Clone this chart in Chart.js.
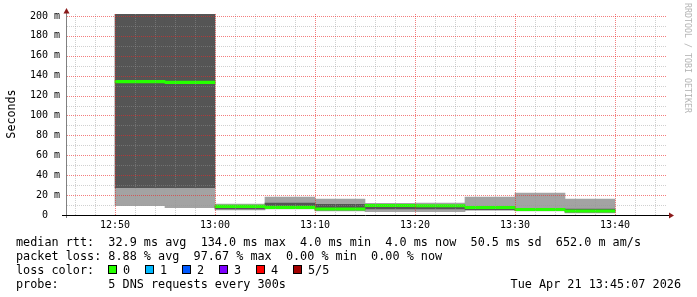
<!DOCTYPE html>
<html>
<head>
<meta charset="utf-8">
<script src="https://cdn.jsdelivr.net/npm/chart.js@4.4.1/dist/chart.umd.min.js"></script>
<style>
  html, body { margin: 0; padding: 0; background: #fff; }
  #wrap { position: relative; width: 697px; height: 297px; overflow: hidden;
          font-family: 'DejaVu Sans Mono', monospace; color: #000; }
  #wrap canvas { position: absolute; left: 0; top: 0; }
  .leg { position: absolute; left: 16px; font-size: 11.8px; line-height: 14px; white-space: pre; }
  .ylab { position: absolute; left: -19px; top: 107px; width: 60px; text-align: center;
          font-size: 11.7px; line-height: 14px; transform: rotate(-90deg); }
  .mark { position: absolute; left: 633px; top: 53px; width: 110px; text-align: center;
          font-size: 8.3px; line-height: 10px; color: #b4b4b4; transform: rotate(90deg); white-space: pre; }
  .sw { position: absolute; width: 7px; height: 7px; border: 1px solid #000; }
</style>
</head>
<body>
<div id="wrap">
  <canvas id="smokeChart" width="697" height="297"></canvas>
  <div class="ylab">Seconds</div>
  <div class="mark">RRDTOOL / TOBI OETIKER</div>
  <div class="leg" style="top:235px">median rtt:  32.9 ms avg  134.0 ms max  4.0 ms min  4.0 ms now  50.5 ms sd  652.0 m am/s</div>
  <div class="leg" style="top:249px">packet loss: 8.88 % avg  97.67 % max  0.00 % min  0.00 % now</div>
  <div class="leg" id="lossRow" style="top:263px">loss color:</div>
  <div class="leg" style="top:277px">probe:       5 DNS requests every 300s</div>
  <div class="leg" style="top:277px; left:auto; right:16px">Tue Apr 21 13:45:07 2026</div>
</div>
<script>
// 5 minute slots (start time of each step)
const slotStarts = ['12:50', '12:55', '13:00', '13:05', '13:10', '13:15', '13:20', '13:25', '13:30', '13:35'];
// median rtt in ms
const medianRtt = [134.0, 133.3, 8.7, 7.7, 6.0, 9.5, 9.3, 7.5, 5.5, 4.0];
// smoke: outer (light) band and inner (dark) band, ms
const smokeOuterLo = [9.3, 7.3, 5.0, 6.0, 4.0, 3.3, 3.3, 5.0, 4.0, 2.0];
const smokeOuterHi = [27.4, 27.4, 11.0, 18.0, 16.0, 11.7, 12.0, 18.0, 22.0, 16.0];
const smokeInnerLo = [27.4, 27.4, 6.0, 7.0, 5.0, 6.0, 6.0, 5.0, 4.5, 3.0];
const smokeInnerHi = [260, 260, 9.0, 12.0, 10.7, 9.5, 9.5, 7.5, 6.0, 6.0];
// lost pings per slot (index into loss colours)
const lostPings = [0, 0, 0, 0, 0, 0, 0, 0, 0, 0];

const lossLabels = ['0', '1', '2', '3', '4', '5/5'];
const lossColors = ['#26ff00', '#00b8ff', '#0059ff', '#7e00ff', '#ff0000', '#a10000'];

const timeLabels = ['12:50', '13:00', '13:10', '13:20', '13:30', '13:40'];
const yLabelTicks = [0, 20, 40, 60, 80, 100, 120, 140, 160, 180, 200];

const toMin = s => { const p = s.split(':').map(Number); return (p[0] - 12) * 60 + p[1]; };
const fmtMin = v => { const h = 12 + Math.floor(v / 60), m = v % 60; return h + ':' + String(m).padStart(2, '0'); };

const slotMid = slotStarts.map(s => toMin(s) + 2.5);
const medianHalf = 1.25;

// legend boxes for loss colours
const lossRow = document.getElementById('lossRow');
lossLabels.forEach((lab, i) => {
    const sw = document.createElement('div');
    sw.className = 'sw';
    sw.style.left = (92 + i * 37) + 'px';
    sw.style.top = '2px';
    sw.style.background = lossColors[i];
    lossRow.appendChild(sw);
    const t = document.createElement('div');
    t.className = 'leg';
    t.style.left = (107 + i * 37) + 'px';
    t.style.top = '0px';
    t.textContent = lab;
    lossRow.appendChild(t);
});

const majorGrid = 'rgba(235, 40, 40, 0.6)';
const minorGrid = 'rgba(150, 150, 150, 0.45)';

const xTicks = [];
for (let v = 46; v <= 104; v += 2) xTicks.push(v);
const yTicks = [];
for (let v = 0; v <= 200; v += 10) yTicks.push(v);
// major every 10 min / every 20 ms
const xGridColors = xTicks.map(v => timeLabels.includes(fmtMin(v)) ? majorGrid : minorGrid);
const yGridColors = yTicks.map(v => yLabelTicks.includes(v) ? majorGrid : minorGrid);

// rrdtool style dotted grid, drawn over the smoke
const gridOverlay = {
    id: 'gridOverlay',
    afterDatasetsDraw(chart) {
        const { ctx, chartArea: a, scales } = chart;
        ctx.save();
        ctx.lineWidth = 1;
        ctx.setLineDash([1, 1]);
        xTicks.forEach((v, i) => {
            const px = Math.round(scales.x.getPixelForValue(v)) + 0.5;
            ctx.strokeStyle = xGridColors[i];
            ctx.beginPath();
            ctx.moveTo(px, a.top);
            ctx.lineTo(px, a.bottom);
            ctx.stroke();
        });
        yTicks.forEach((v, i) => {
            if (v === 0) return;
            const py = Math.round(scales.y.getPixelForValue(v)) + 0.5;
            ctx.strokeStyle = yGridColors[i];
            ctx.beginPath();
            ctx.moveTo(a.left, py);
            ctx.lineTo(a.right, py);
            ctx.stroke();
        });
        ctx.restore();
    }
};

const axisArrows = {
    id: 'axisArrows',
    afterDraw(chart) {
        const { ctx, chartArea: a } = chart;
        ctx.save();
        ctx.lineWidth = 1;
        ctx.strokeStyle = '#808080';
        ctx.beginPath();
        ctx.moveTo(a.left - 0.5, a.bottom + 3);
        ctx.lineTo(a.left - 0.5, a.top - 1);
        ctx.stroke();
        ctx.strokeStyle = '#000';
        ctx.beginPath();
        ctx.moveTo(a.left - 5, a.bottom + 0.5);
        ctx.lineTo(a.right + 2, a.bottom + 0.5);
        ctx.stroke();
        ctx.fillStyle = '#8b1a1a';
        ctx.beginPath();
        ctx.moveTo(a.left - 0.5, a.top - 6);
        ctx.lineTo(a.left - 3.5, a.top - 0.5);
        ctx.lineTo(a.left + 2.5, a.top - 0.5);
        ctx.closePath();
        ctx.fill();
        ctx.beginPath();
        ctx.moveTo(a.right + 7, a.bottom + 0.5);
        ctx.lineTo(a.right + 2, a.bottom - 2.5);
        ctx.lineTo(a.right + 2, a.bottom + 3.5);
        ctx.closePath();
        ctx.fill();
        ctx.restore();
    }
};

const tickFont = { family: "'DejaVu Sans Mono', monospace", size: 10 };

// chart.js draws lower "order" on top
new Chart(document.getElementById('smokeChart'), {
    type: 'bar',
    data: {
        datasets: [{
            label: 'smoke outer',
            stack: 'smoke',
            order: 3,
            data: slotMid.map((x, i) => ({ x: x, y: [smokeOuterLo[i], smokeOuterHi[i]] })),
            backgroundColor: '#a3a3a3'
        }, {
            label: 'smoke inner',
            stack: 'smoke',
            order: 2,
            data: slotMid.map((x, i) => ({ x: x, y: [smokeInnerLo[i], smokeInnerHi[i]] })),
            backgroundColor: '#555555'
        }, {
            label: 'median rtt',
            stack: 'smoke',
            order: 1,
            data: slotMid.map((x, i) => ({ x: x, y: [medianRtt[i] - medianHalf, medianRtt[i] + medianHalf] })),
            backgroundColor: lostPings.map(n => lossColors[n])
        }]
    },
    options: {
        responsive: false,
        animation: false,
        devicePixelRatio: 1,
        layout: { padding: { top: 14, right: 30, bottom: 0, left: 0 } },
        plugins: { legend: { display: false }, tooltip: { enabled: false } },
        datasets: {
            bar: { barThickness: 'flex', categoryPercentage: 1, barPercentage: 1, borderWidth: 0 }
        },
        scales: {
            x: {
                type: 'linear',
                min: 45.2,
                max: 105.2,
                offset: false,
                afterBuildTicks: s => { s.ticks = xTicks.map(v => ({ value: v })); },
                afterFit: s => { s.height = 82; },
                grid: { display: false, offset: false, drawTicks: false },
                border: { display: false },
                ticks: {
                    autoSkip: false,
                    maxRotation: 0,
                    padding: 4,
                    color: '#000',
                    font: tickFont,
                    callback: v => timeLabels.includes(fmtMin(v)) ? fmtMin(v) : ''
                }
            },
            y: {
                min: 0,
                max: 202,
                stacked: false,
                afterBuildTicks: s => { s.ticks = yTicks.map(v => ({ value: v })); },
                afterFit: s => { s.width = 67; },
                grid: { display: false, drawTicks: false },
                border: { display: false },
                ticks: {
                    padding: 7,
                    color: '#000',
                    font: tickFont,
                    callback: v => yLabelTicks.includes(v) ? (v === 0 ? '0  ' : v + ' m') : ''
                }
            }
        }
    },
    plugins: [gridOverlay, axisArrows]
});
</script>
</body>
</html>
